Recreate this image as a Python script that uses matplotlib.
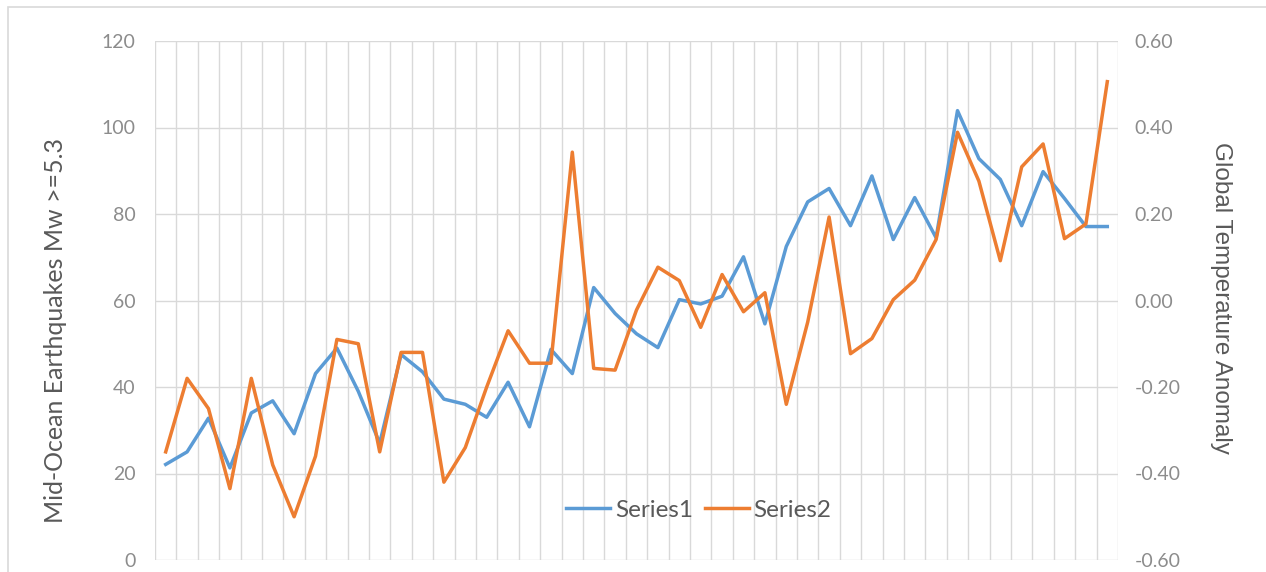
import numpy as np
import matplotlib
matplotlib.use("Agg")
import matplotlib.pyplot as plt
from matplotlib.patches import Rectangle

plt.rcParams['font.family'] = ['Lato', 'DejaVu Sans']

# 45 categories, no labels on the x axis
series1 = [22.1, 25.0, 32.8, 21.3, 34.0, 36.8, 29.2, 43.1, 49.0, 39.0,
           27.0, 47.5, 43.5, 37.2, 36.0, 33.0, 41.1, 30.8, 48.7, 43.1,
           63.0, 57.0, 52.3, 49.1, 60.2, 59.2, 61.0, 70.1, 54.6, 72.5,
           82.8, 85.9, 77.3, 88.8, 74.1, 83.8, 74.5, 103.9, 92.8, 88.0,
           77.3, 89.8, 83.6, 77.1, 77.1]
series2 = [-0.35, -0.18, -0.25, -0.435, -0.18, -0.38, -0.50, -0.36, -0.09, -0.10,
           -0.35, -0.12, -0.12, -0.42, -0.34, -0.20, -0.07, -0.145, -0.145, 0.343,
           -0.157, -0.161, -0.022, 0.077, 0.046, -0.062, 0.06, -0.026, 0.018, -0.24,
           -0.05, 0.193, -0.123, -0.088, 0.002, 0.047, 0.141, 0.389, 0.276, 0.092,
           0.309, 0.362, 0.143, 0.177, 0.506]
left_ticks = [0, 20, 40, 60, 80, 100, 120]
right_ticks = [-0.6, -0.4, -0.2, 0.0, 0.2, 0.4, 0.6]

x = np.arange(len(series1))
grid_c = '#d9d9d9'
tick_c = '#8c8c8c'
title_c = '#595959'

fig = plt.figure(figsize=(12.66, 5.72), dpi=100)
fig.patches.append(Rectangle((8/1266, -0.1), 1.2, 1.1 - 7/572, transform=fig.transFigure,
                             fill=False, edgecolor=grid_c, lw=1.2))
ax = fig.add_axes([155/1266, 1 - 560/572, (1118-155)/1266, (560-41)/572])
ax2 = ax.twinx()

ax.set_xlim(-0.5, len(series1) - 0.5)
ax.set_ylim(0, 120)
ax2.set_ylim(-0.6, 0.6)

# grid
for v in left_ticks:
    ax.axhline(v, color=grid_c, lw=1, zorder=0)
for b in np.arange(-0.5, len(series1), 1):
    ax.axvline(b, color=grid_c, lw=1, zorder=0)

l1, = ax.plot(x, series1, color='#5B9BD5', lw=2.5, solid_joinstyle='round', zorder=3)
l2, = ax2.plot(x, series2, color='#ED7D31', lw=2.5, solid_joinstyle='round', zorder=3)

for a in (ax, ax2):
    for s in a.spines.values():
        s.set_visible(False)
    a.tick_params(length=0)
ax.set_xticks([])

ax.set_yticks(left_ticks)
ax.set_yticklabels([str(v) for v in left_ticks])
ax.tick_params(axis='y', colors=tick_c, labelsize=14, pad=14)
ax2.set_yticks(right_ticks)
ax2.set_yticklabels(['%.2f' % v for v in right_ticks])
ax2.tick_params(axis='y', colors=tick_c, labelsize=14, pad=12)

ax.set_ylabel('Mid-Ocean Earthquakes Mw >=5.3', color=title_c, fontsize=18)
ax.yaxis.set_label_coords((67-155)/963, 0.442)
ax2.set_ylabel('Global Temperature Anomaly', color=title_c, fontsize=17.5, rotation=270,
               va='bottom', family=['Liberation Sans', 'DejaVu Sans'])
ax2.yaxis.set_label_coords((1210-155)/963, 0.505)

fig.legend([l1, l2], ['Series1', 'Series2'], loc='center', ncol=2, frameon=False,
           bbox_to_anchor=(699/1266, 1 - 510/572), fontsize=17.5, labelcolor=title_c,
           handlelength=1.8, columnspacing=0.5, handletextpad=0.2)

fig.savefig('out.png', dpi=100)
